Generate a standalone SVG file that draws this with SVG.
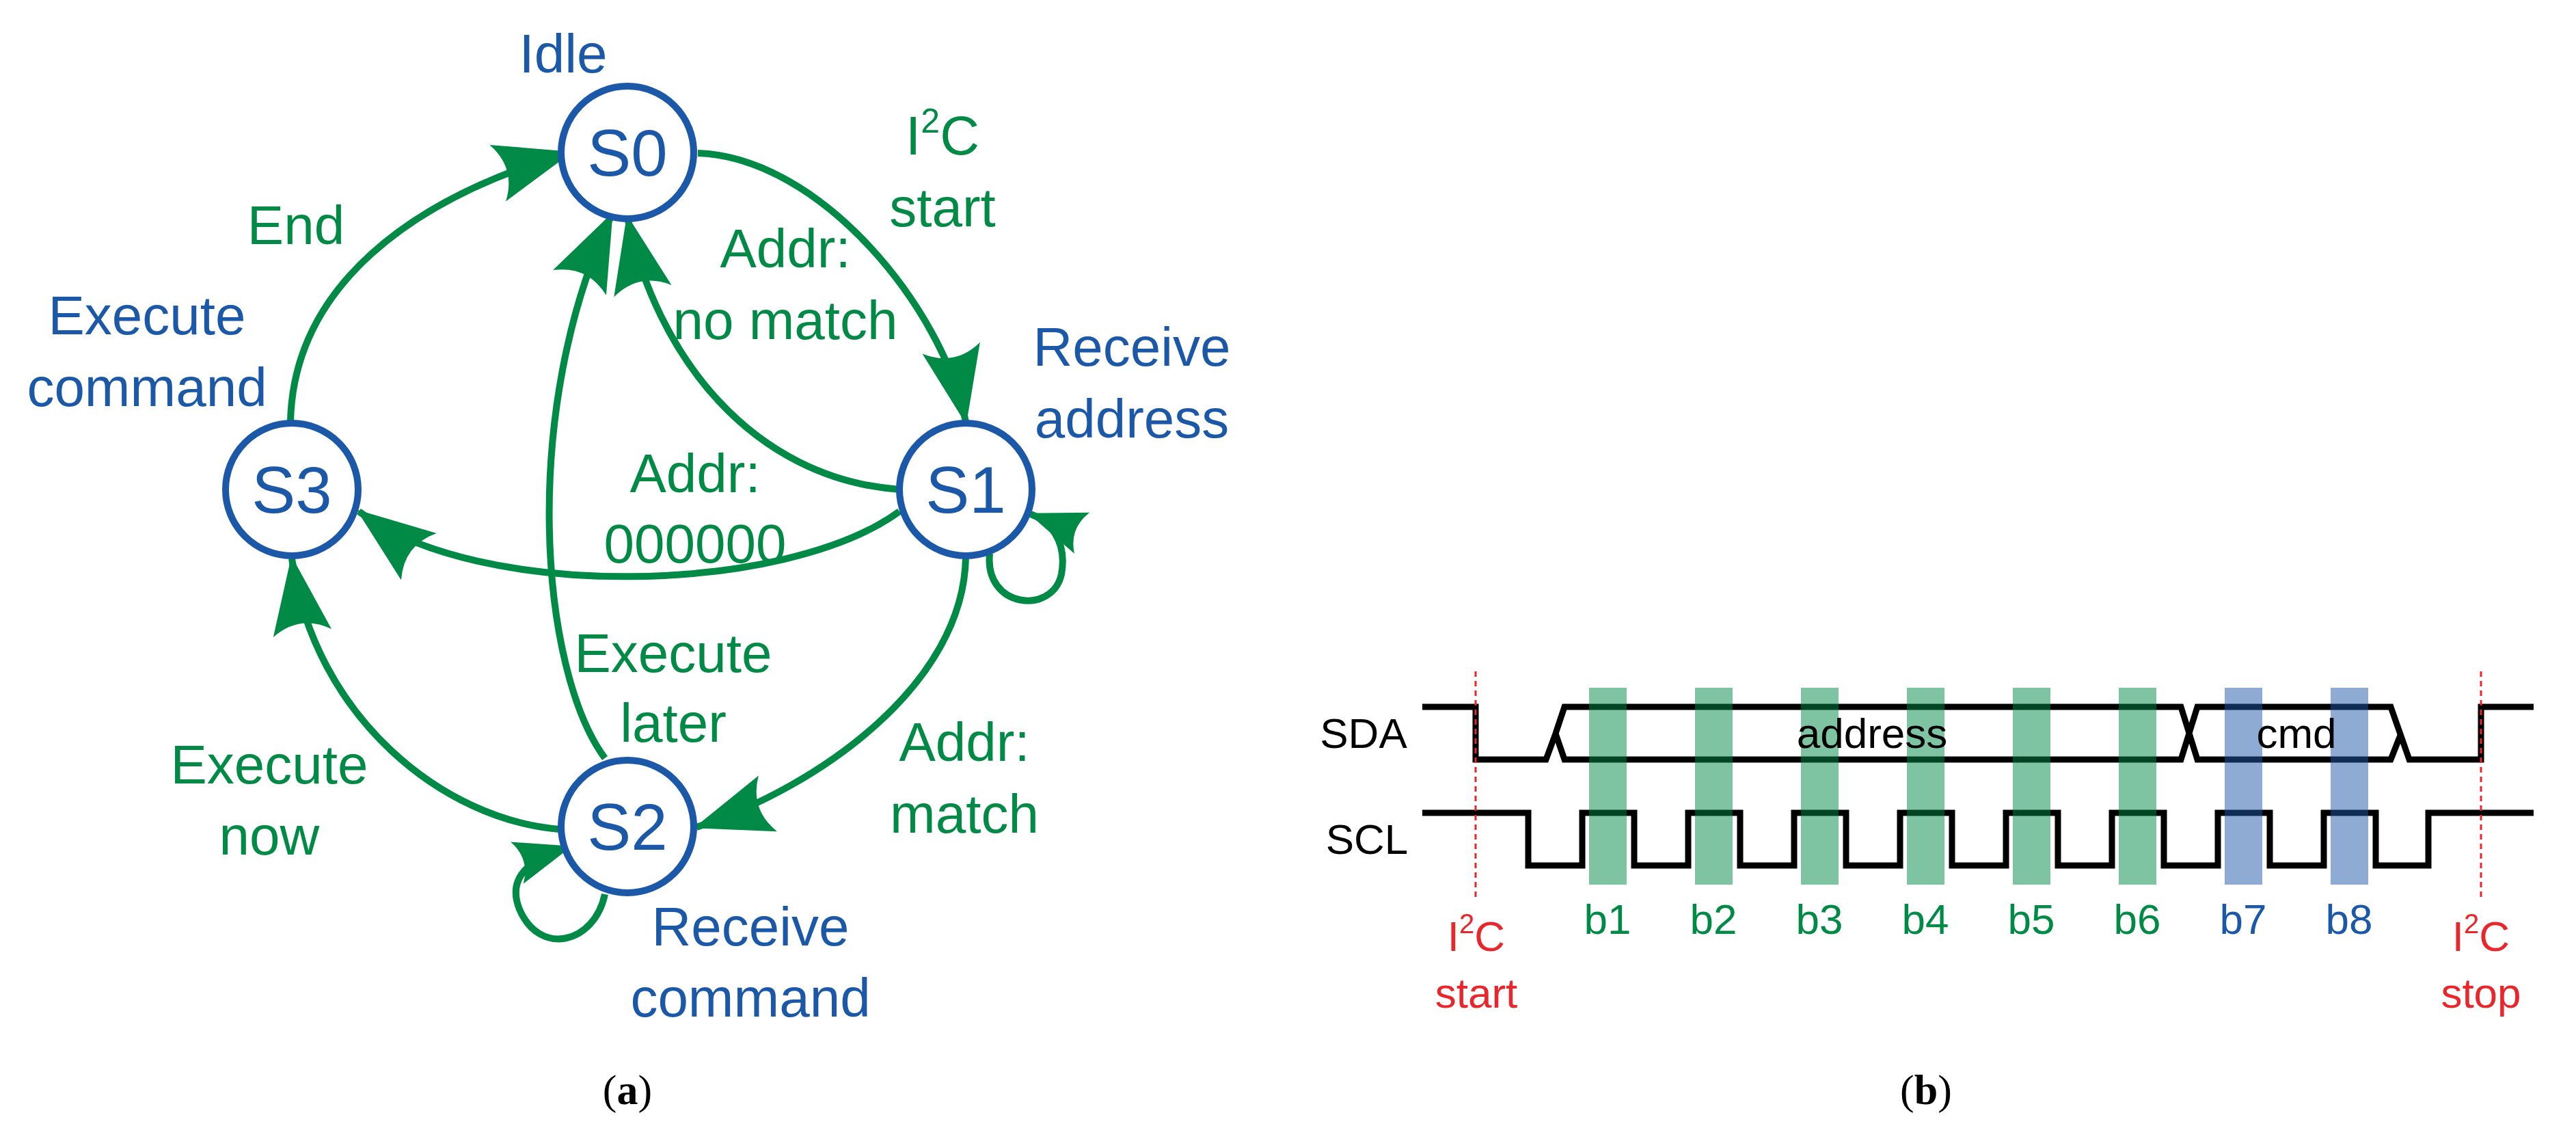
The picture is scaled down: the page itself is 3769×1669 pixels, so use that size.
<svg xmlns="http://www.w3.org/2000/svg" width="3769" height="1669" viewBox="0 0 3769 1669">
<defs>
<marker id="ah" markerUnits="userSpaceOnUse" markerWidth="130" markerHeight="120" viewBox="-120 -60 130 120" refX="0" refY="0" orient="auto">
<path d="M4,0 L-110,-43 Q-82,0 -110,43 Z" fill="#008A45"/>
</marker>
<marker id="ahs" markerUnits="userSpaceOnUse" markerWidth="100" markerHeight="90" viewBox="-90 -45 100 90" refX="0" refY="0" orient="auto">
<path d="M4,0 L-80,-32 Q-60,0 -80,32 Z" fill="#008A45"/>
</marker>
</defs>
<style>
.st{fill:#fff;stroke:#1C58A8;stroke-width:10}
.sl{font-family:"Liberation Sans",Arial,sans-serif;font-size:96px;fill:#1C58A8;text-anchor:middle}
.bl{font-family:"Liberation Sans",Arial,sans-serif;font-size:80px;fill:#1C58A8;text-anchor:middle}
.gl{font-family:"Liberation Sans",Arial,sans-serif;font-size:80px;fill:#008A45;text-anchor:middle}
.e{fill:none;stroke:#008A45;stroke-width:10;marker-end:url(#ah)}
.es{fill:none;stroke:#008A45;stroke-width:10;marker-end:url(#ahs)}
.cap{font-family:"Liberation Serif","Times New Roman",serif;font-size:62px;fill:#000;text-anchor:middle}
.w{fill:none;stroke:#000;stroke-width:9}
.t{font-family:"Liberation Sans",Arial,sans-serif;font-size:62px;text-anchor:middle}
.gb{fill:#008A45;opacity:0.5}
.bb{fill:#1C58A8;opacity:0.5}
.red{fill:none;stroke:#E8262B;stroke-width:3;stroke-dasharray:8 6}
</style>
<g id="connectors">
<path class="e" d="M425,616 C430,420 600,290 834,223"/>
<path class="e" d="M1021,224 C1200,230 1380,450 1413,617"/>
<path class="e" d="M1316,716 C1100,700 960,520 918,318"/>
<path class="e" d="M1316,748 C1150,870 700,880 525,748"/>
<path class="e" d="M1413,815 C1410,1000 1200,1150 1019,1210"/>
<path class="e" d="M819,1213 C650,1200 460,1050 427,817"/>
<path class="e" d="M885,1109 C790,980 760,600 895,314"/>
<path class="es" d="M1448,810 C1440,890 1540,900 1553,840 C1562,790 1535,762 1508,752"/>
<path class="es" d="M885,1308 C870,1380 790,1400 760,1330 C740,1280 780,1255 833,1239"/>
</g>
<g id="S0"><circle class="st" cx="918" cy="223" r="97"/><text class="sl" x="918" y="257">S0</text><text class="bl" x="824" y="106">Idle</text></g>
<g id="S1"><circle class="st" cx="1413" cy="716" r="97"/><text class="sl" x="1413" y="750">S1</text><text class="bl" x="1656" y="535">Receive</text><text class="bl" x="1656" y="640">address</text></g>
<g id="S2"><circle class="st" cx="918" cy="1209" r="97"/><text class="sl" x="918" y="1243">S2</text><text class="bl" x="1098" y="1383">Receive</text><text class="bl" x="1098" y="1487">command</text></g>
<g id="S3"><circle class="st" cx="427" cy="716" r="97"/><text class="sl" x="427" y="750">S3</text><text class="bl" x="215" y="489">Execute</text><text class="bl" x="215" y="594">command</text></g>
<g id="labels">
<text class="gl" x="1379" y="226">I<tspan font-size="50" dy="-32">2</tspan><tspan dy="32">C</tspan></text>
<text class="gl" x="1379" y="331">start</text>
<text class="gl" x="433" y="357">End</text>
<text class="gl" x="1149" y="391">Addr:</text>
<text class="gl" x="1149" y="496">no match</text>
<text class="gl" x="1017" y="720">Addr:</text>
<text class="gl" x="1017" y="823">000000</text>
<text class="gl" x="985" y="983">Execute</text>
<text class="gl" x="985" y="1085">later</text>
<text class="gl" x="394" y="1146">Execute</text>
<text class="gl" x="394" y="1250">now</text>
<text class="gl" x="1411" y="1113">Addr:</text>
<text class="gl" x="1411" y="1218">match</text>
</g>
<text class="cap" x="918" y="1615">(<tspan font-weight="bold">a</tspan>)</text>
<g id="timing">
<path class="w" d="M2081,1034 H2159 V1111 H2262 L2276,1073 L2289,1034 H3191 L3215,1111 H3498 L3513,1073 L3498,1111 H3215 L3191,1034 M2276,1073 L2289,1111 H3191 L3215,1034 H3498 L3525,1111 H3630 V1034 H3707"/>
<path class="w" d="M2081,1189 H2236 V1266 H2315 V1189 H2391 V1266 H2470 V1189 H2546 V1266 H2625 V1189 H2701 V1266 H2780 V1189 H2856 V1266 H2935 V1189 H3011 V1266 H3090 V1189 H3166 V1266 H3245 V1189 H3321 V1266 H3400 V1189 H3476 V1266 H3553 V1189 H3707"/>
<rect class="gb" x="2325" y="1006" width="55" height="288"/>
<rect class="gb" x="2480" y="1006" width="55" height="288"/>
<rect class="gb" x="2635" y="1006" width="55" height="288"/>
<rect class="gb" x="2790" y="1006" width="55" height="288"/>
<rect class="gb" x="2945" y="1006" width="55" height="288"/>
<rect class="gb" x="3100" y="1006" width="55" height="288"/>
<rect class="bb" x="3255" y="1006" width="55" height="288"/>
<rect class="bb" x="3410" y="1006" width="55" height="288"/>
<line class="red" x1="2159" y1="982" x2="2159" y2="1316"/>
<line class="red" x1="3630" y1="982" x2="3630" y2="1316"/>
<text class="t" x="1995" y="1094">SDA</text>
<text class="t" x="2000" y="1249">SCL</text>
<text class="t" x="2739" y="1094">address</text>
<text class="t" x="3360" y="1094">cmd</text>
<g fill="#008A45"><text class="t" x="2352" y="1366">b1</text><text class="t" x="2507" y="1366">b2</text><text class="t" x="2662" y="1366">b3</text><text class="t" x="2817" y="1366">b4</text><text class="t" x="2972" y="1366">b5</text><text class="t" x="3127" y="1366">b6</text></g>
<g fill="#1C58A8"><text class="t" x="3282" y="1366">b7</text><text class="t" x="3437" y="1366">b8</text></g>
<g fill="#E8262B">
<text class="t" x="2160" y="1391">I<tspan font-size="40" dy="-26">2</tspan><tspan dy="26">C</tspan></text>
<text class="t" x="2160" y="1474">start</text>
<text class="t" x="3630" y="1391">I<tspan font-size="40" dy="-26">2</tspan><tspan dy="26">C</tspan></text>
<text class="t" x="3630" y="1474">stop</text>
</g>
</g>
<text class="cap" x="2818" y="1615">(<tspan font-weight="bold">b</tspan>)</text>
</svg>
